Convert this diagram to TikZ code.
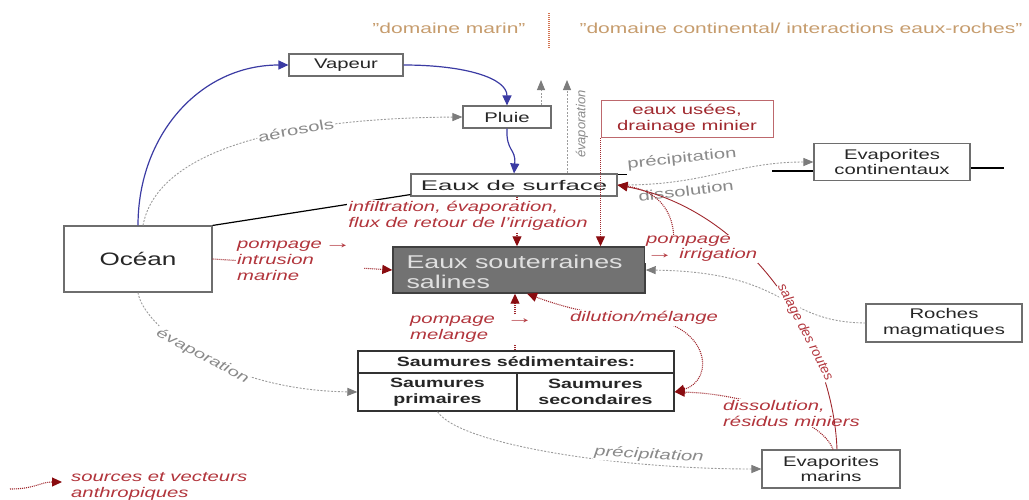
\documentclass[tikz,border=0pt]{standalone}
\usepackage{graphicx}
\usepackage{fontspec}
\setmainfont{Liberation Sans}[FakeStretch=1.45]
\newfontfamily\plainsans{Liberation Sans}
\usetikzlibrary{arrows.meta}
\newcommand{\flowsign}{\scalebox{1.35}[1.15]{→}}
\definecolor{boxline}{HTML}{6E6E6E}
\definecolor{flowblue}{HTML}{3B3BA3}
\definecolor{flowgray}{HTML}{9C9C9C}
\definecolor{headgray}{HTML}{7C7C7C}
\definecolor{labelgray}{HTML}{8A8A8A}
\definecolor{anthro}{HTML}{A0282E}
\definecolor{anthrotip}{HTML}{8A0C10}
\definecolor{anthrotext}{HTML}{B2353C}
\definecolor{domain}{HTML}{C69C6D}
\definecolor{deepgray}{HTML}{727272}
\begin{document}
\begin{tikzpicture}[x=1pt,y=-1pt,
  txt/.style={font=\fontsize{14}{15.5}\selectfont},
  box/.style={draw=boxline, line width=1.1pt, fill=white, align=center, inner sep=0pt, text=black!85, txt},
  brine/.style={draw=black!80, line width=1.4pt, align=center, inner sep=0pt, text=black!85,
    font=\bfseries\fontsize{13.5}{16}\selectfont},
  bluearrow/.style={draw=flowblue, line width=1.2pt, -{Triangle[length=10pt,width=9pt]}},
  grayarrow/.style={draw=flowgray, line width=0.9pt, dash pattern=on 2pt off 1.5pt,
    -{Triangle[length=10pt,width=8pt,color=headgray]}},
  redarrow/.style={draw=anthro, line width=1.1pt, dash pattern=on 1pt off 1pt,
    -{Triangle[length=10pt,width=9pt,color=anthrotip]}},
  redlabel/.style={text=anthrotext, font=\itshape\fontsize{14}{16}\selectfont, align=left, inner sep=1pt, fill=white},
  graylabel/.style={text=labelgray, font=\fontsize{14}{16}\selectfont, inner sep=1pt, fill=white},
]
\useasboundingbox (0,0) rectangle (1029,499);

% --- domain headings
\node[text=domain, font=\fontsize{14.5}{16}\selectfont] (dm) at (449,28) {"domaine marin"};
\node[text=domain, font=\fontsize{14.5}{16}\selectfont] (dc) at (801,28) {"domaine continental/ interactions eaux-roches"};
\coordinate (sepTop) at (549,13);
\coordinate (sepBot) at (549,48);
\draw[domain!75!red, line width=1.2pt, dash pattern=on 1pt off 1pt] (sepTop) -- (sepBot);

% --- reservoirs
\node[box, minimum width=114pt, minimum height=22pt] (vap) at (346,65) {Vapeur};
\node[box, minimum width=88pt, minimum height=22pt] (pluie) at (507,117) {Pluie};
\node[box, minimum width=206pt, minimum height=22pt] (surf) at (514,185) {\scalebox{1.27}[1]{Eaux de surface}};
\node[box, minimum width=148pt, minimum height=66pt, font=\fontsize{18}{20}\selectfont] (oc) at (138,259) {Océan};
\node[draw=black!75, fill=deepgray, line width=1.4pt, minimum width=252pt, minimum height=46pt] (sout) at (519,270) {};
\node[text=black!12, align=left, inner sep=0pt, anchor=west, font=\fontsize{18.5}{20}\selectfont]
  (soutlab) at ([xshift=14pt,yshift=-2pt]sout.west) {Eaux souterraines\\salines};
\node[draw=anthro!70, line width=1pt, text=anthro, minimum width=172pt, minimum height=37pt,
  align=center, inner sep=0pt, txt] (use) at (687,119) {eaux usées,\\drainage minier};
\node[box, minimum width=156pt, minimum height=37pt] (evc) at (892,162) {Evaporites\\continentaux};
\node[box, minimum width=156pt, minimum height=38pt] (roches) at (944,323) {Roches\\magmatiques};
\node[box, minimum width=138pt, minimum height=38pt] (evm) at (831,469) {Evaporites\\marins};
\node[brine, minimum width=316pt, minimum height=22pt] (sh) at (516,362) {Saumures sédimentaires:};
\node[brine, minimum width=159pt, minimum height=38pt] (sp) at (437.5,392) {Saumures\\primaires};
\node[brine, minimum width=157pt, minimum height=38pt] (ss) at (595.5,392) {Saumures\\secondaires};

% --- black guide strokes
\draw[black, line width=1.2pt] (oc.north east) -- ([yshift=2pt]surf.south west);
\draw[black, line width=1.2pt] ([yshift=-1pt]surf.north east) -- ++(9,0);
\draw[black, line width=1.2pt] ([yshift=-9pt]evc.west) -- ++(-41,0);
\draw[black, line width=1.2pt] ([yshift=-6pt]evc.east) -- ++(33,0);

% --- water cycle
\draw[bluearrow] (oc.north) .. controls (138,135) and (200,65) .. (vap.west);
\draw[bluearrow] (vap.east) .. controls (465,65) and (507,78) .. (pluie.north);
\draw[bluearrow] (pluie.south) .. controls (506,152) and (516,148) .. (surf.north);

% --- natural fluxes
\draw[grayarrow] ([xshift=5pt]oc.north) .. controls (158,145) and (300,118) .. (pluie.west)
  node[graylabel, pos=0.63, sloped] {aérosols};
\coordinate (evA) at (541,80);
\coordinate (evB) at (567,80);
\draw[grayarrow] (pluie.north -| evA) -- (evA);
\draw[grayarrow] (surf.north -| evB) -- (evB);
\node[text=labelgray, font=\plainsans\itshape\fontsize{13}{14}\selectfont, rotate=90] (evlab) at (582,124) {évaporation};
\draw[grayarrow] (surf.east) .. controls (705,186) and (735,162) .. (evc.west);
\node[graylabel, rotate=6] (precA) at (682,159) {précipitation};
\node[graylabel, rotate=7] (dissA) at (686,191) {dissolution};
\draw[grayarrow] (roches.west) .. controls (780,322) and (790,272) .. (sout.east);
\draw[grayarrow] (oc.south) .. controls (143,325) and (220,390) .. (sp.west)
  node[graylabel, font=\itshape\fontsize{13.5}{16}\selectfont, pos=0.52, sloped] {évaporation};
\draw[grayarrow] (sp.south) .. controls (460,445) and (620,469) .. (evm.west);
\node[graylabel, font=\itshape\fontsize{14}{16}\selectfont, rotate=-3] (precB) at (649,455) {précipitation};

% --- anthropogenic fluxes
\draw[redarrow] ([xshift=3pt]surf.south) -- ([xshift=3pt]surf.south |- sout.north);
\node[redlabel] (infl) at (468,216) {infiltration, évaporation,\\flux de retour de l'irrigation};
\draw[redarrow] (use.south west) -- (use.south west |- sout.north);
\draw[redarrow] (oc.east) -- (sout.west);
\node[redlabel, anchor=north west, text width=126pt] (intr) at (236,240) {pompage\,\flowsign\\intrusion\\marine};
\draw[redarrow] ([xshift=-1pt]sh.north) -- ([xshift=-1pt]sh.north |- sout.south);
\node[redlabel, anchor=north west] (pmel) at (409,315) {pompage ~\flowsign\\melange};
\draw[redarrow, {Triangle[length=10pt,width=9pt,color=anthrotip]}-{Triangle[length=10pt,width=9pt,color=anthrotip]}]
  (ss.east) .. controls (716,380) and (710,322) .. (640,318) .. controls (590,316) and (552,303) .. ([xshift=8pt]sout.south);
\node[redlabel] (dil) at (644,318) {dilution/mélange};
\draw[redarrow] ([xshift=2pt]evm.north) .. controls (822,418) and (740,393) .. (ss.east);
\node[redlabel, anchor=west] (resid) at (722,413) {dissolution,\\résidus miniers};
\draw[draw=anthro, line width=0.9pt, -{Triangle[length=10pt,width=9pt,color=anthrotip]}]
  ([xshift=6pt]evm.north) .. controls (833,340) and (750,210) .. (surf.east)
  node[text=anthrotext, font=\plainsans\itshape\fontsize{13.5}{15}\selectfont, fill=white, inner sep=0.5pt, pos=0.35, sloped] {salage des routes};
\node[redlabel, anchor=north west] (irr) at (645,235) {pompage\\[-1pt]\flowsign\ irrigation};
\draw[redarrow] ([xshift=-28pt]irr.north) .. controls (672,208) and (655,190) .. (surf.east);

% --- legend
\coordinate (lg0) at (10,489);
\coordinate (lg1) at (62,482);
\draw[redarrow] (lg0) .. controls (35,489) and (40,482) .. (lg1);
\node[redlabel, anchor=north west] (lgt) at (70,471) {sources et vecteurs\\anthropiques};
\end{tikzpicture}
\end{document}
